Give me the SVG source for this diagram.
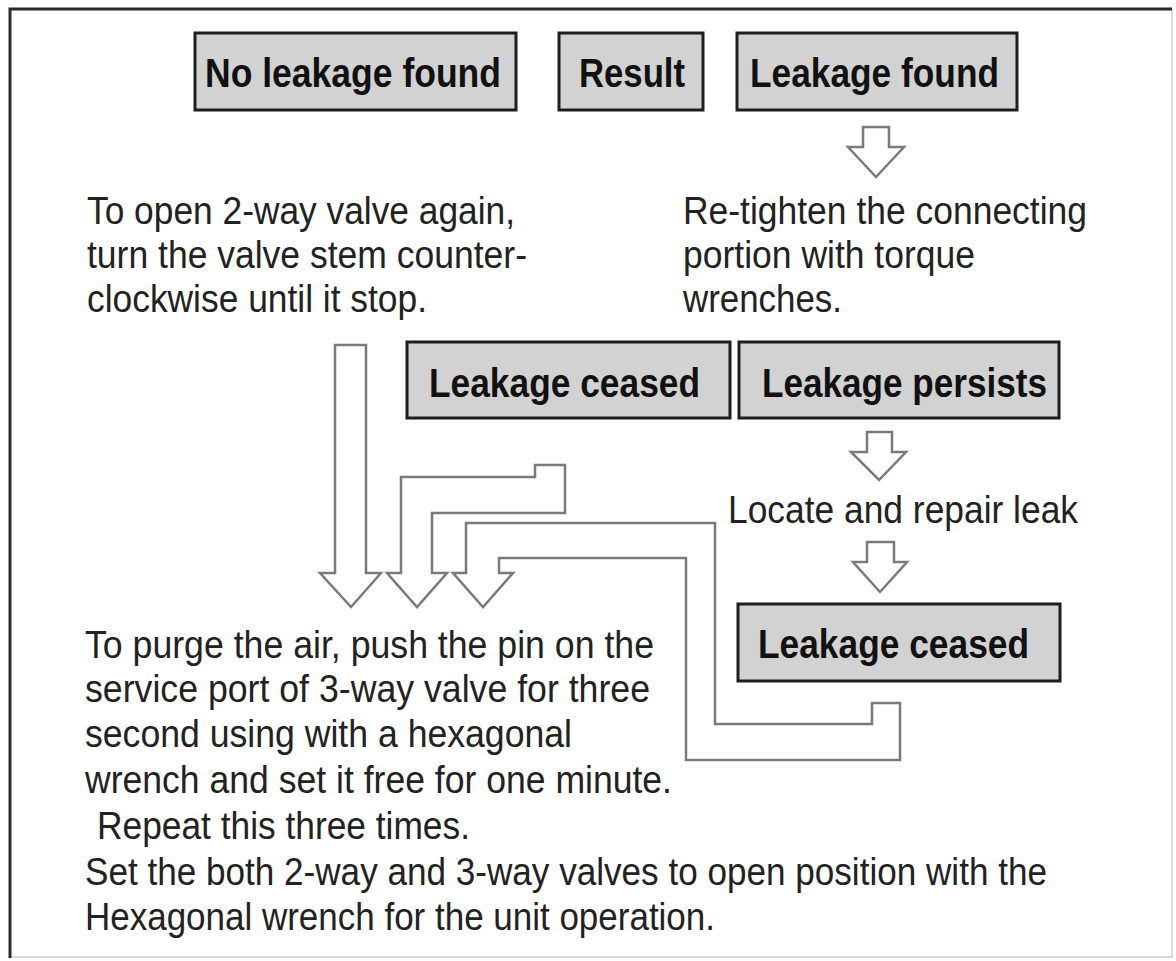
<svg xmlns="http://www.w3.org/2000/svg" width="1176" height="961" viewBox="0 0 1176 961">
<style>
.bg{fill:#ffffff}
.box{fill:#d2d2d2;stroke:#1e1e1e;stroke-width:3}
.lbl{font-family:"Liberation Sans",Arial,sans-serif;font-weight:bold;font-size:40px;fill:#111}
.txt{font-family:"Liberation Sans",Arial,sans-serif;font-size:38px;fill:#222}
.arr{fill:#ffffff;stroke:#7a7a7a;stroke-width:2.5;stroke-linejoin:miter}
.frameD{fill:none;stroke:#2a2a2a;stroke-width:3}
.frameL{fill:none;stroke:#d0d0d0;stroke-width:1.5}
</style>
<rect class="bg" x="0" y="0" width="1176" height="961"/>
<g id="frame">
<path class="frameL" d="M1172 9 V957 H10"/>
<path class="frameD" d="M10 958 V9 H1172"/>
</g>
<g id="connectors">
<polygon class="arr" points="335,345 366,345 366,573 381,573 351,607 320,573 335,573"/>
<polygon class="arr" points="535,465 565,465 565,513 432,513 432,573 447,573 417,607 387,573 401,573 401,477 535,477"/>
<polygon class="arr" points="466,523 715,523 715,724 872,724 872,703 900,703 900,760 686,760 686,558 499,558 499,573 513,573 483,607 453,573 466,573"/>
<polygon class="arr" points="863,127 889,127 889,147 904,147 876,177 848,147 863,147"/>
<polygon class="arr" points="867,432 892,432 892,452 906,452 879,480 851,452 867,452"/>
<polygon class="arr" points="867,542 894,542 894,562 907,562 880,592 853,562 867,562"/>
</g>
<g id="node-no-leakage">
<rect class="box" x="195" y="33" width="321" height="77"/>
<text class="lbl" x="205" y="87" textLength="296" lengthAdjust="spacingAndGlyphs">No leakage found</text>
</g>
<g id="node-result">
<rect class="box" x="559" y="33" width="144" height="77"/>
<text class="lbl" x="579" y="87" textLength="106" lengthAdjust="spacingAndGlyphs">Result</text>
</g>
<g id="node-leakage-found">
<rect class="box" x="737" y="33" width="280" height="77"/>
<text class="lbl" x="750" y="87" textLength="249" lengthAdjust="spacingAndGlyphs">Leakage found</text>
</g>
<g id="node-open-valve">
<text class="txt" x="87" y="224" textLength="428" lengthAdjust="spacingAndGlyphs">To open 2-way valve again,</text>
<text class="txt" x="87" y="268" textLength="440" lengthAdjust="spacingAndGlyphs">turn the valve stem counter-</text>
<text class="txt" x="87" y="312" textLength="340" lengthAdjust="spacingAndGlyphs">clockwise until it stop.</text>
</g>
<g id="node-retighten">
<text class="txt" x="683" y="224" textLength="404" lengthAdjust="spacingAndGlyphs">Re-tighten the connecting</text>
<text class="txt" x="683" y="268" textLength="292" lengthAdjust="spacingAndGlyphs">portion with torque</text>
<text class="txt" x="683" y="312" textLength="159" lengthAdjust="spacingAndGlyphs">wrenches.</text>
</g>
<g id="node-ceased-1">
<rect class="box" x="407" y="342" width="323" height="76"/>
<text class="lbl" x="429" y="397" textLength="271" lengthAdjust="spacingAndGlyphs">Leakage ceased</text>
</g>
<g id="node-persists">
<rect class="box" x="739" y="342" width="320" height="76"/>
<text class="lbl" x="762" y="397" textLength="285" lengthAdjust="spacingAndGlyphs">Leakage persists</text>
</g>
<g id="node-locate">
<text class="txt" x="728" y="523" textLength="350" lengthAdjust="spacingAndGlyphs">Locate and repair leak</text>
</g>
<g id="node-ceased-2">
<rect class="box" x="738" y="604" width="322" height="77"/>
<text class="lbl" x="758" y="658" textLength="271" lengthAdjust="spacingAndGlyphs">Leakage ceased</text>
</g>
<g id="node-purge">
<text class="txt" x="85" y="658" textLength="569" lengthAdjust="spacingAndGlyphs">To purge the air, push the pin on the</text>
<text class="txt" x="85" y="702" textLength="565" lengthAdjust="spacingAndGlyphs">service port of 3-way valve for three</text>
<text class="txt" x="85" y="747" textLength="487" lengthAdjust="spacingAndGlyphs">second using with a hexagonal</text>
<text class="txt" x="85" y="793" textLength="587" lengthAdjust="spacingAndGlyphs">wrench and set it free for one minute.</text>
<text class="txt" x="97" y="839" textLength="373" lengthAdjust="spacingAndGlyphs">Repeat this three times.</text>
<text class="txt" x="85" y="885" textLength="962" lengthAdjust="spacingAndGlyphs">Set the both 2-way and 3-way valves to open position with the</text>
<text class="txt" x="85" y="930" textLength="630" lengthAdjust="spacingAndGlyphs">Hexagonal wrench for the unit operation.</text>
</g>
</svg>
